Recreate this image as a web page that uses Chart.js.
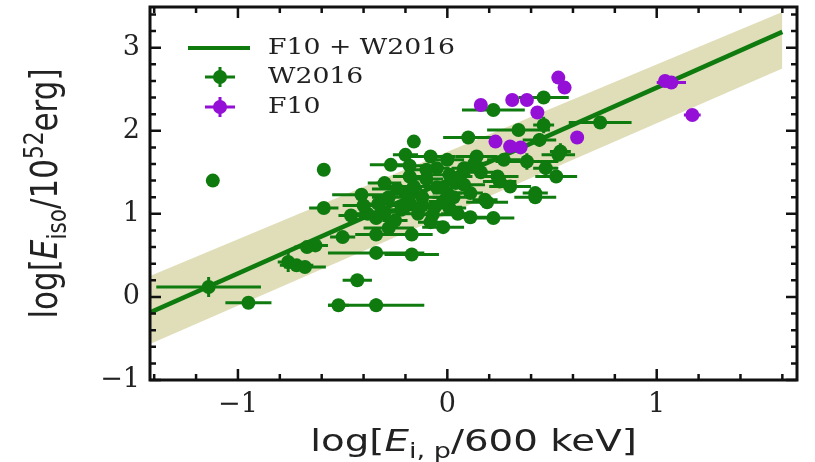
<!DOCTYPE html>
<html>
<head>
<meta charset="utf-8">
<script src="https://cdn.jsdelivr.net/npm/chart.js@4.4.0/dist/chart.umd.min.js"></script>
<style>
  html, body { margin: 0; padding: 0; background: #fff; }
</style>
</head>
<body>
<canvas id="graficoEisoEp" width="815" height="462"></canvas>
<script>
// W2016 sample: log(Ep/600 keV), log(Eiso/1e52 erg) and their errors
const w16X = [-1.12, -0.59, -0.16, -1.14, -0.95, -0.76, -0.72, -0.63, -0.68, -0.41,
  -0.59, -0.34, -0.17, -0.43, -0.52, -0.34, 0.42, 0.19, 0.22, 0.22,
  0.46, 0.46, 0.34, 0.10, 0.44, 0.73, 0.54, 0.38, 0.52, -0.28,
  -0.17, -0.50, -0.27, -0.30, -0.18, -0.34, -0.34, -0.08, 0.00, 0.14,
  0.27, 0.24, 0.47, 0.01, 0.42, -0.20, -0.10, 0.13, 0.53, 0.25,
  0.30, 0.18, 0.11, -0.02, -0.18, 0.04, 0.01, -0.07, 0.11, -0.20,
  -0.22, -0.12, -0.05, -0.02, 0.06, -0.28, -0.14, -0.08, 0.05, -0.25,
  -0.38, -0.46, -0.10, 0.08, -0.18, 0.16, -0.33, 0.00, -0.05, -0.67,
  -0.24, -0.12, 0.03, -0.30, -0.06, 0.08, -0.16, -0.40];
const w16Y = [1.40, 1.53, 1.87, 0.12, -0.07, 0.42, 0.38, 0.62, 0.36, 1.23,
  1.07, 0.53, 0.51, 0.20, -0.10, -0.10, 1.20, 1.14, 0.95, 2.25,
  2.40, 2.07, 2.01, 1.92, 1.89, 2.10, 1.75, 1.63, 1.45, 0.83,
  0.75, 0.72, 1.59, 1.37, 1.13, 0.95, 0.75, 1.69, 1.65, 1.69,
  1.65, 1.45, 1.55, 1.47, 1.25, 1.71, 1.53, 1.61, 1.71, 1.39,
  1.33, 1.17, 0.96, 0.84, 1.45, 1.37, 1.07, 0.99, 1.25, 1.25,
  1.05, 1.20, 1.32, 1.15, 1.45, 1.20, 1.00, 0.90, 1.00, 0.92,
  1.00, 0.98, 1.42, 1.55, 1.58, 1.50, 1.12, 1.25, 1.55, 0.60,
  1.30, 1.10, 1.20, 1.02, 1.08, 1.35, 1.33, 1.10];
const w16Xerr = [0.02, 0.02, 0.02, 0.25, 0.11, 0.05, 0.08, 0.06, 0.10, 0.14,
  0.07, 0.23, 0.13, 0.07, 0.05, 0.23, 0.10, 0.10, 0.10, 0.15,
  0.12, 0.05, 0.15, 0.12, 0.08, 0.15, 0.05, 0.15, 0.10, 0.12,
  0.10, 0.06, 0.10, 0.08, 0.09, 0.08, 0.10, 0.12, 0.08, 0.10,
  0.08, 0.10, 0.06, 0.10, 0.06, 0.06, 0.08, 0.06, 0.08, 0.08,
  0.10, 0.06, 0.08, 0.10, 0.08, 0.06, 0.08, 0.10, 0.06, 0.08,
  0.06, 0.08, 0.06, 0.07, 0.06, 0.08, 0.07, 0.06, 0.08, 0.06,
  0.08, 0.06, 0.08, 0.06, 0.06, 0.08, 0.06, 0.07, 0.06, 0.06,
  0.12, 0.14, 0.10, 0.12, 0.13, 0.10, 0.12, 0.10];
const w16Yerr = [0.03, 0.03, 0.03, 0.12, 0.03, 0.12, 0.05, 0.05, 0.04, 0.04,
  0.03, 0.06, 0.04, 0.06, 0.03, 0.08, 0.06, 0.05, 0.07, 0.04,
  0.04, 0.10, 0.04, 0.04, 0.08, 0.04, 0.10, 0.10, 0.06, 0.05,
  0.05, 0.04, 0.04, 0.05, 0.05, 0.06, 0.05, 0.05, 0.05, 0.06,
  0.05, 0.06, 0.05, 0.06, 0.05, 0.05, 0.06, 0.05, 0.06, 0.05,
  0.06, 0.05, 0.05, 0.06, 0.05, 0.05, 0.06, 0.06, 0.05, 0.05,
  0.05, 0.06, 0.05, 0.05, 0.05, 0.05, 0.05, 0.06, 0.05, 0.05,
  0.05, 0.05, 0.06, 0.05, 0.05, 0.05, 0.05, 0.05, 0.05, 0.05,
  0.06, 0.05, 0.06, 0.05, 0.06, 0.05, 0.06, 0.05];

// F10 sample
const f10X = [0.53, 0.56, 0.16, 0.31, 0.38, 0.43, 0.62, 0.23, 0.30, 0.35, 1.07, 1.04, 1.17];
const f10Y = [2.64, 2.52, 2.31, 2.37, 2.37, 2.22, 1.92, 1.87, 1.81, 1.80, 2.58, 2.60, 2.19];
const f10Xerr = [0.02, 0.02, 0.03, 0.02, 0.02, 0.02, 0.02, 0.03, 0.02, 0.02, 0.07, 0.03, 0.04];
const f10Yerr = [0.03, 0.03, 0.03, 0.03, 0.03, 0.03, 0.03, 0.03, 0.03, 0.03, 0.03, 0.03, 0.02];

// best fit (F10 + W2016) and its scatter band
const fitX = [-1.45, 1.6];
const fitY = [-0.22, 3.19];
const bandUpper = [0.22, 3.43];
const bandLower = [-0.60, 2.75];

const xTicks = [-1, 0, 1];
const yTicks = [-1, 0, 1, 2, 3];

const GREEN = "#0f7b0f";
const PURPLE = "#9410d6";

const toPts = (xs, ys) => xs.map((v, i) => ({ x: v, y: ys[i] }));
const fmt = v => (v < 0 ? "\u2212" + Math.abs(v) : String(v));

// error bars drawn just before each dataset's markers
const errorBars = {
  id: "errorBars",
  beforeDatasetDraw(chart, args) {
    const ds = chart.data.datasets[args.index];
    if (!ds.errX) return;
    const xs = chart.scales.x, ys = chart.scales.y, a = chart.chartArea;
    const ctx = chart.ctx;
    ctx.save();
    ctx.beginPath();
    ctx.rect(a.left, a.top, a.right - a.left, a.bottom - a.top);
    ctx.clip();
    ctx.strokeStyle = ds.backgroundColor;
    ctx.lineWidth = 3;
    ds.data.forEach((p, i) => {
      const px = xs.getPixelForValue(p.x), py = ys.getPixelForValue(p.y);
      ctx.beginPath();
      ctx.moveTo(xs.getPixelForValue(p.x - ds.errX[i]), py);
      ctx.lineTo(xs.getPixelForValue(p.x + ds.errX[i]), py);
      ctx.moveTo(px, ys.getPixelForValue(p.y - ds.errY[i]));
      ctx.lineTo(px, ys.getPixelForValue(p.y + ds.errY[i]));
      ctx.stroke();
    });
    ctx.restore();
  }
};

// rich text helper for the axis titles (italic E, sub- and superscripts)
function drawRich(ctx, parts, size) {
  const fam = "'DejaVu Sans', sans-serif";
  const fontOf = p => (p.italic ? "italic " : "") + (p.sub || p.sup ? size * 0.7 : size) + "px " + fam;
  let total = 0;
  parts.forEach(p => { ctx.font = fontOf(p); p.w = ctx.measureText(p.t).width; total += p.w; });
  let x = -total / 2;
  ctx.textBaseline = "alphabetic";
  ctx.textAlign = "left";
  parts.forEach(p => {
    ctx.font = fontOf(p);
    const dy = p.sub ? size * 0.22 : p.sup ? -size * 0.4 : 0;
    ctx.fillText(p.t, x, size * 0.36 + dy);
    x += p.w;
  });
}

const frameAndText = {
  id: "frameAndText",
  afterDatasetsDraw(chart) {
    const { ctx, chartArea: a, scales: { x, y } } = chart;
    ctx.save();
    ctx.strokeStyle = "#111";
    ctx.lineWidth = 2.5;
    // inward ticks on all four sides, minor every 0.2
    for (let k = -7; k <= 8; k++) {
      const px = x.getPixelForValue(k * 0.2);
      const len = k % 5 === 0 ? 11 : 6;
      ctx.beginPath();
      ctx.moveTo(px, a.bottom); ctx.lineTo(px, a.bottom - len);
      ctx.moveTo(px, a.top); ctx.lineTo(px, a.top + len);
      ctx.stroke();
    }
    for (let k = -5; k <= 17; k++) {
      const py = y.getPixelForValue(k * 0.2);
      const len = k % 5 === 0 ? 11 : 6;
      ctx.beginPath();
      ctx.moveTo(a.left, py); ctx.lineTo(a.left + len, py);
      ctx.moveTo(a.right, py); ctx.lineTo(a.right - len, py);
      ctx.stroke();
    }
    ctx.lineWidth = 3;
    ctx.strokeRect(a.left, a.top, a.right - a.left, a.bottom - a.top);

    // legend
    ctx.lineWidth = 4;
    ctx.strokeStyle = GREEN;
    ctx.beginPath(); ctx.moveTo(188, 48); ctx.lineTo(250, 48); ctx.stroke();
    [[77, GREEN], [107, PURPLE]].forEach(([cy, col]) => {
      ctx.strokeStyle = col; ctx.fillStyle = col; ctx.lineWidth = 3;
      ctx.beginPath();
      ctx.moveTo(205, cy); ctx.lineTo(235, cy);
      ctx.moveTo(220, cy - 10); ctx.lineTo(220, cy + 10);
      ctx.stroke();
      ctx.beginPath(); ctx.arc(220, cy, 7, 0, Math.PI * 2); ctx.fill();
    });
    ctx.fillStyle = "#222";
    ctx.font = "23px 'DejaVu Serif', serif";
    ctx.textAlign = "left";
    ctx.textBaseline = "middle";
    [["F10 + W2016", 48], ["W2016", 77], ["F10", 107]].forEach(([t, cy]) => {
      ctx.save();
      ctx.translate(268, cy);
      ctx.scale(1.16, 1);
      ctx.fillText(t, 0, 0);
      ctx.restore();
    });

    // axis titles
    ctx.fillStyle = "#222";
    ctx.save();
    ctx.translate((a.left + a.right) / 2, 440);
    ctx.scale(1.25, 1);
    drawRich(ctx, [{ t: "log[" }, { t: "E", italic: true }, { t: "i, p", sub: true }, { t: "/600 keV]" }], 31);
    ctx.restore();
    ctx.save();
    ctx.translate(44, (a.top + a.bottom) / 2);
    ctx.rotate(-Math.PI / 2);
    ctx.scale(1, 1.2);
    drawRich(ctx, [{ t: "log[" }, { t: "E", italic: true }, { t: "iso", sub: true }, { t: "/10" }, { t: "52", sup: true }, { t: "erg]" }], 31);
    ctx.restore();
    ctx.restore();
  }
};

const tickFont = { family: "'DejaVu Serif', serif", size: 27 };

new Chart(document.getElementById("graficoEisoEp").getContext("2d"), {
  type: "scatter",
  data: {
    datasets: [
      {
        type: "line",
        label: "band upper",
        data: toPts(fitX, bandUpper),
        borderWidth: 0,
        pointRadius: 0,
        backgroundColor: "rgba(189, 183, 107, 0.47)",
        fill: "+1",
        order: 4
      },
      {
        type: "line",
        label: "band lower",
        data: toPts(fitX, bandLower),
        borderWidth: 0,
        pointRadius: 0,
        fill: false,
        order: 3
      },
      {
        type: "line",
        label: "F10 + W2016",
        data: toPts(fitX, fitY),
        borderColor: GREEN,
        borderWidth: 4.5,
        pointRadius: 0,
        fill: false,
        order: 2
      },
      {
        label: "W2016",
        data: toPts(w16X, w16Y),
        errX: w16Xerr,
        errY: w16Yerr,
        backgroundColor: GREEN,
        borderColor: GREEN,
        pointRadius: 7,
        pointBorderWidth: 0,
        order: 1
      },
      {
        label: "F10",
        data: toPts(f10X, f10Y),
        errX: f10Xerr,
        errY: f10Yerr,
        backgroundColor: PURPLE,
        borderColor: PURPLE,
        pointRadius: 7,
        pointBorderWidth: 0,
        order: 0
      }
    ]
  },
  options: {
    responsive: false,
    animation: false,
    devicePixelRatio: 1,
    layout: { padding: { top: 7, right: 18, left: 0, bottom: 0 } },
    plugins: { legend: { display: false }, tooltip: { enabled: false } },
    scales: {
      x: {
        type: "linear",
        min: -1.42,
        max: 1.67,
        afterBuildTicks: s => { s.ticks = xTicks.map(v => ({ value: v })); },
        afterFit: s => { s.height = 82; s.paddingLeft = 0; s.paddingRight = 0; },
        grid: { display: false, drawTicks: false },
        border: { display: false },
        ticks: { font: tickFont, color: "#222", padding: 9, maxRotation: 0, autoSkip: false, callback: fmt }
      },
      y: {
        type: "linear",
        min: -1,
        max: 3.49,
        afterBuildTicks: s => { s.ticks = yTicks.map(v => ({ value: v })); },
        afterFit: s => { s.width = 150; s.paddingTop = 0; s.paddingBottom = 0; },
        grid: { display: false, drawTicks: false },
        border: { display: false },
        ticks: { font: tickFont, color: "#222", padding: 10, autoSkip: false, callback: fmt }
      }
    }
  },
  plugins: [errorBars, frameAndText]
});
</script>
</body>
</html>
